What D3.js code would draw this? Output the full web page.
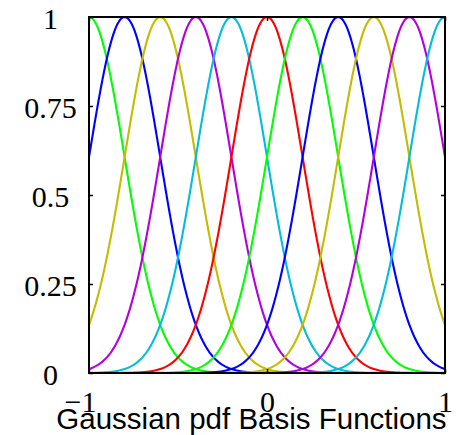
<!DOCTYPE html>
<html>
<head>
<meta charset="utf-8">
<script src="https://cdn.jsdelivr.net/npm/d3@7"></script>
<style>
  html, body { margin: 0; padding: 0; background: #fff; }
  svg { display: block; }
</style>
</head>
<body>
<svg id="chart" width="461" height="435"></svg>
<script>
// Centres of the Gaussian basis functions and their line colours
const centers = [-1, -0.8, -0.6, -0.4, -0.2, 0, 0.2, 0.4, 0.6, 0.8, 1];
const colors  = ["#00ff00", "#0000ff", "#c4bc00", "#b400e0", "#00bedc", "#ff0000",
                 "#00ff00", "#0000ff", "#c4bc00", "#b400e0", "#00bedc"];
const sigma = 0.2;

// Axis ticks and labels
const xTicks = [-1, 0, 1];
const xTickLabels = ["\u22121", "0", "1"];
const yTicks = [0, 0.25, 0.5, 0.75, 1];
const yTickLabels = ["0", "0.25", "0.5", "0.75", "1"];
const title = "Gaussian pdf Basis Functions";

const margin = { left: 89, right: 16, top: 17, bottom: 62 };
const W = 461, H = 435;

const svg = d3.select("#chart");
const x = d3.scaleLinear().domain([-1, 1]).range([margin.left, W - margin.right]);
const y = d3.scaleLinear().domain([0, 1]).range([H - margin.bottom, margin.top]);

// Sample grid over the domain for drawing the smooth curves
const grid = d3.range(0, 401).map(i => -1 + i * 2 / 400);
const gauss = c => grid.map(v => [v, Math.exp(-((v - c) ** 2) / (2 * sigma * sigma))]);

const line = d3.line().x(d => x(d[0])).y(d => y(d[1]));

svg.append("defs").append("clipPath").attr("id", "plotclip")
  .append("rect")
  .attr("x", x(-1)).attr("y", y(1) - 2)
  .attr("width", x(1) - x(-1)).attr("height", y(0) - y(1) + 4);

const curves = svg.append("g").attr("clip-path", "url(#plotclip)");
centers.forEach((c, i) => {
  curves.append("path")
    .attr("d", line(gauss(c)))
    .attr("fill", "none")
    .attr("stroke", colors[i])
    .attr("stroke-width", 2.1);
});

// Axes: box with inward ticks on all four sides
const tickLen = 4;
const axFont = "'Liberation Serif', 'Times New Roman', serif";

const gBottom = svg.append("g").attr("transform", `translate(0,${y(0)})`)
  .call(d3.axisBottom(x).tickValues(xTicks).tickSize(-tickLen).tickPadding(0)
    .tickFormat((d, i) => xTickLabels[i]));
const gTop = svg.append("g").attr("transform", `translate(0,${y(1)})`)
  .call(d3.axisTop(x).tickValues(xTicks).tickSize(-tickLen).tickFormat(""));
const gLeft = svg.append("g").attr("transform", `translate(${x(-1)},0)`)
  .call(d3.axisLeft(y).tickValues(yTicks).tickSize(-tickLen).tickPadding(0)
    .tickFormat((d, i) => yTickLabels[i]));
const gRight = svg.append("g").attr("transform", `translate(${x(1)},0)`)
  .call(d3.axisRight(y).tickValues(yTicks).tickSize(-tickLen).tickFormat(""));

[gBottom, gTop, gLeft, gRight].forEach(g => {
  g.select(".domain").remove();
  g.selectAll(".tick line").attr("stroke", "#000").attr("stroke-width", 1.5);
});

gBottom.selectAll(".tick text")
  .attr("font-family", axFont).attr("font-size", 30).attr("fill", "#000")
  .attr("y", 0).attr("dy", 39)
  .attr("text-anchor", d => d < 0 ? "end" : "middle")
  .attr("x", d => d < 0 ? 7 : 0);

gLeft.selectAll(".tick text")
  .attr("font-family", axFont).attr("font-size", 30).attr("fill", "#000")
  .attr("text-anchor", "middle")
  .attr("x", 50.5 - x(-1)).attr("dy", 11.5);

svg.append("rect")
  .attr("x", x(-1)).attr("y", y(1))
  .attr("width", x(1) - x(-1)).attr("height", y(0) - y(1))
  .attr("fill", "none").attr("stroke", "#000").attr("stroke-width", 2);

// Title under the axis
svg.append("text")
  .attr("x", 251.5).attr("y", 428.5)
  .attr("text-anchor", "middle")
  .attr("font-family", "'Liberation Sans', Arial, Helvetica, sans-serif")
  .attr("font-size", 29.5).attr("fill", "#000")
  .text(title);
</script>
</body>
</html>
